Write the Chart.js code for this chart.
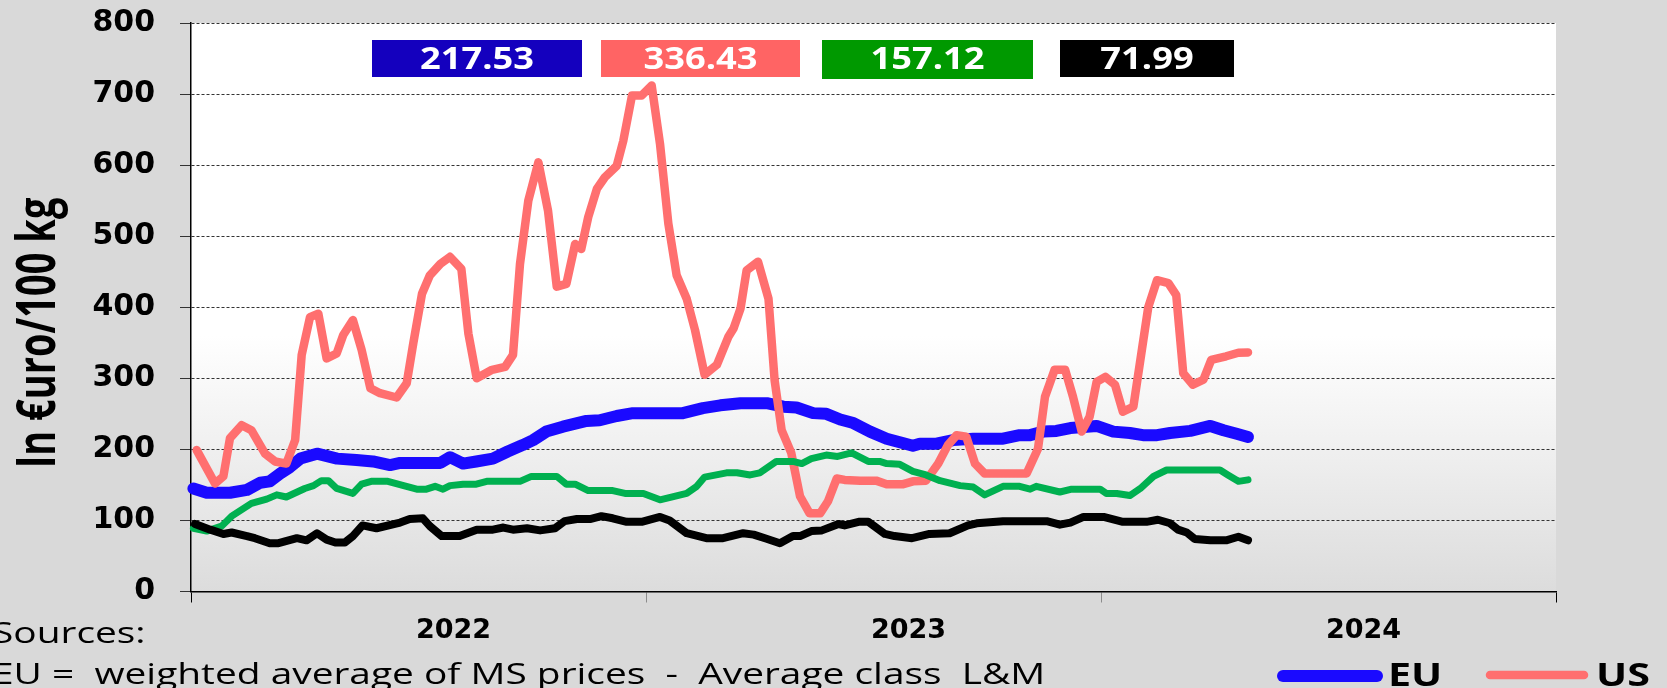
<!DOCTYPE html>
<html>
<head>
<meta charset="utf-8">
<script src="https://cdn.jsdelivr.net/npm/chart.js@4.4.1/dist/chart.umd.min.js"></script>
<style>
  body { margin: 0; background: #d9d9d9; }
  canvas { display: block; }
</style>
</head>
<body>
<canvas id="grafico" width="1667" height="688"></canvas>
<script>
// weeks counted from the start of 2022 (52 weeks per year on the axis)
const euWeeks = [0.27, 1.8, 4.46, 6.4, 7.9, 9.0, 10.2, 11.3, 12.5, 14.4, 16.7, 18.9, 20.8, 22.75, 23.9, 28.5, 29.6, 31.1, 32.6, 34.5, 36.2, 37.9, 39.1, 40.6, 42.5, 45.2, 46.7, 48.65, 50.5, 56.2, 58.5, 60.5, 62.8, 65.8, 67.7, 69.2, 71.1, 72.6, 74.2, 75.7, 77.6, 79.5, 81.0, 82.5, 83.3, 85.2, 87.1, 89.4, 91.3, 92.8, 94.7, 95.9, 97.4, 98.9, 100.5, 103.5, 105.4, 107.3, 108.8, 110.4, 111.9, 114.2, 116.5, 118.0, 119.5, 120.8];
const euPrices = [145, 139, 139, 143, 153, 155, 166, 175, 187, 194, 187, 185, 183, 178, 181, 181, 189, 180, 183, 187, 197, 206, 213, 225, 232, 240, 241, 247, 251, 251, 258, 262, 265, 265, 260, 259, 251, 250, 242, 237, 225, 215, 210, 205, 208, 208, 213, 215, 215, 215, 220, 220, 225, 226, 230, 233, 225, 223, 220, 220, 223, 226, 233, 227, 222, 217.53];

const usWeeks = [0.65, 2.74, 3.7, 4.46, 5.8, 6.9, 8.46, 9.6, 10.9, 11.9, 12.65, 13.6, 14.55, 15.5, 16.65, 17.4, 18.5, 19.5, 20.5, 21.6, 23.5, 24.65, 25.4, 26.4, 27.3, 28.5, 29.6, 30.9, 31.7, 32.65, 34.4, 35.9, 36.8, 37.6, 38.55, 39.7, 40.8, 41.8, 42.9, 43.9, 44.6, 45.4, 46.4, 47.3, 48.65, 49.4, 50.4, 51.5, 52.65, 53.6, 54.55, 55.5, 56.65, 57.6, 58.7, 60.1, 61.4, 62.0, 62.8, 63.5, 64.8, 66.0, 66.7, 67.5, 68.6, 69.6, 70.7, 71.9, 72.8, 73.8, 74.7, 76.5, 78.3, 79.5, 81.4, 82.5, 84.0, 85.4, 86.5, 87.5, 88.6, 89.6, 90.7, 95.5, 96.8, 97.6, 98.7, 99.9, 100.8, 101.8, 102.7, 103.5, 104.5, 105.6, 106.5, 107.7, 109.4, 110.4, 111.7, 112.6, 113.4, 114.5, 115.7, 116.6, 118.3, 119.7, 120.8];
const usPrices = [199, 152, 162, 216, 234, 227, 194, 183, 180, 213, 333, 386, 391, 328, 335, 361, 382, 340, 286, 279, 273, 293, 349, 419, 445, 461, 471, 454, 363, 300, 312, 316, 333, 461, 550, 604, 536, 429, 433, 489, 482, 527, 567, 583, 599, 634, 698, 698, 712, 630, 518, 445, 412, 368, 305, 319, 358, 370, 398, 452, 464, 412, 297, 227, 195, 134, 110, 110, 127, 159, 157, 156, 156, 151, 151, 155, 156, 180, 206, 220, 218, 180, 166, 166, 201, 274, 312, 312, 274, 225, 246, 295, 302, 291, 253, 260, 400, 438, 434, 417, 307, 291, 298, 326, 331, 336, 336.43];

const greenWeeks = [0.27, 1.8, 3.5, 4.65, 6.9, 8.65, 9.8, 10.9, 13.0, 14.0, 14.9, 15.7, 16.65, 18.5, 19.5, 20.6, 22.5, 24.3, 25.8, 26.9, 27.9, 28.8, 29.6, 31.1, 32.6, 33.8, 37.6, 38.9, 41.8, 42.9, 43.9, 45.4, 48.2, 49.6, 51.7, 53.6, 56.65, 57.8, 58.7, 61.2, 62.4, 63.9, 65.0, 66.9, 68.8, 69.8, 70.9, 72.6, 73.9, 75.5, 77.4, 78.7, 79.5, 81.0, 82.5, 84.0, 85.6, 87.9, 89.4, 90.7, 92.8, 94.7, 95.9, 96.6, 99.3, 100.65, 103.9, 104.6, 105.8, 107.3, 108.5, 110.0, 111.5, 117.6, 118.5, 119.7, 120.8];
const greenPrices = [89, 85, 92, 106, 124, 130, 136, 133, 145, 149, 156, 156, 145, 138, 151, 155, 155, 149, 144, 144, 148, 144, 149, 151, 151, 155, 155, 162, 162, 151, 151, 142, 142, 138, 138, 129, 138, 148, 161, 167, 167, 164, 167, 183, 183, 180, 187, 192, 190, 195, 183, 183, 180, 179, 169, 164, 156, 149, 147, 136, 148, 148, 144, 148, 140, 144, 144, 138, 138, 135, 145, 162, 171, 171, 164, 155, 157.12];

const blackWeeks = [0.46, 2.2, 3.7, 4.65, 6.4, 7.3, 9.0, 10.0, 12.1, 13.2, 14.4, 15.5, 16.5, 17.6, 18.5, 19.6, 21.2, 23.9, 25.0, 26.5, 27.3, 28.65, 30.7, 32.65, 34.5, 35.7, 36.8, 38.4, 39.9, 41.6, 42.7, 44.1, 45.6, 46.9, 48.2, 49.8, 51.5, 53.6, 54.7, 56.65, 58.9, 60.8, 63.1, 64.3, 65.6, 67.3, 68.8, 69.6, 70.9, 72.1, 74.0, 74.7, 76.3, 77.4, 79.3, 80.4, 82.4, 84.4, 86.7, 88.8, 89.8, 92.8, 97.8, 99.3, 100.5, 102.0, 104.3, 106.5, 109.2, 110.5, 111.9, 112.8, 113.8, 114.7, 116.5, 118.3, 119.7, 120.8];
const blackPrices = [95, 87, 81, 83, 78, 75, 68, 68, 75, 72, 82, 73, 69, 69, 78, 93, 89, 97, 102, 103, 92, 78, 78, 87, 87, 90, 87, 89, 86, 89, 99, 102, 102, 106, 103, 98, 98, 105, 100, 82, 75, 75, 82, 80, 75, 68, 78, 78, 85, 86, 95, 93, 98, 98, 81, 78, 75, 81, 82, 93, 96, 99, 99, 94, 97, 105, 105, 98, 98, 101, 96, 87, 83, 74, 72, 72, 77, 71.99];

// x axis: year boundaries and the week where each year label sits
const yearBounds = [0, 52, 104, 156];
const yearLabelWeeks = [30, 82, 134];
const yearLabels = ["2022", "2023", "2024"];
const yTicks = [0, 100, 200, 300, 400, 500, 600, 700, 800];

const pontos = (semanas, precos) => semanas.map((s, i) => ({ x: s, y: precos[i] }));

function textoEsticado(ctx, texto, x, y, sx, align) {
  ctx.save();
  ctx.translate(x, y);
  ctx.scale(sx, 1);
  ctx.textAlign = align;
  ctx.fillText(texto, 0, 0);
  ctx.restore();
}

const fundo = {
  id: "fundo",
  beforeDraw(chart) {
    const { ctx, chartArea: a } = chart;
    ctx.save();
    ctx.fillStyle = "#d9d9d9";
    ctx.fillRect(0, 0, chart.width, chart.height);
    const g = ctx.createLinearGradient(0, a.top, 0, a.bottom);
    g.addColorStop(0, "#ffffff");
    g.addColorStop(0.55, "#ffffff");
    g.addColorStop(1, "#dcdcdc");
    ctx.fillStyle = g;
    ctx.fillRect(a.left, a.top, a.right - a.left, a.bottom - a.top);
    ctx.restore();
  }
};

// value boxes, axis title, notes and legend
const extras = {
  id: "extras",
  afterDraw(chart) {
    const ctx = chart.ctx;
    const ds = chart.data.datasets;
    ctx.save();

    const caixas = [
      { x: 372, w: 210, h: 37, cor: "#1400be", serie: 0 },
      { x: 601, w: 199, h: 37, cor: "#ff6464", serie: 1 },
      { x: 822, w: 211, h: 39, cor: "#009900", serie: 2 },
      { x: 1060, w: 174, h: 37, cor: "#000000", serie: 3 }
    ];
    ctx.font = "bold 31px 'Open Sans'";
    caixas.forEach(c => {
      const dados = ds[c.serie].data;
      ctx.fillStyle = c.cor;
      ctx.fillRect(c.x, 40, c.w, c.h);
      ctx.fillStyle = "#ffffff";
      textoEsticado(ctx, dados[dados.length - 1].y.toFixed(2), c.x + c.w / 2, 68.5, 1.17, "center");
    });

    // y axis title
    ctx.fillStyle = "#000";
    ctx.font = "bold 38px 'Open Sans'";
    ctx.save();
    ctx.translate(55, 333);
    ctx.rotate(-Math.PI / 2);
    ctx.scale(1, 1.4);
    ctx.textAlign = "center";
    ctx.fillText("In €uro/100 kg", 0, 0);
    ctx.restore();

    ctx.font = "29px 'Open Sans'";
    textoEsticado(ctx, "Sources:", -8, 643, 1.34, "left");
    textoEsticado(ctx, "EU =  weighted average of MS prices  -  Average class  L&M", -8, 684, 1.34, "left");

    // legend
    const legenda = [
      { x1: 1277, x2: 1383, y: 676, texto: "EU", tx: 1388, serie: 0 },
      { x1: 1484, x2: 1590, y: 675, texto: "US", tx: 1596, serie: 1 }
    ];
    ctx.lineCap = "round";
    ctx.font = "bold 33px 'Open Sans'";
    legenda.forEach(l => {
      ctx.strokeStyle = ds[l.serie].borderColor;
      ctx.lineWidth = ds[l.serie].borderWidth;
      ctx.beginPath();
      ctx.moveTo(l.x1 + 6, l.y);
      ctx.lineTo(l.x2 - 6, l.y);
      ctx.stroke();
      ctx.fillStyle = "#000";
      textoEsticado(ctx, l.texto, l.tx, 686, 1.25, "left");
    });
    ctx.restore();
  }
};

const linha = (label, semanas, precos, cor, largura, ordem) => ({
  label,
  data: pontos(semanas, precos),
  borderColor: cor,
  borderWidth: largura,
  pointRadius: 0,
  tension: 0,
  borderJoinStyle: "round",
  borderCapStyle: "round",
  order: ordem,
  clip: false
});

new Chart(document.getElementById("grafico"), {
  type: "line",
  data: {
    datasets: [
      linha("EU", euWeeks, euPrices, "#1a0aff", 12, 4),
      linha("US", usWeeks, usPrices, "#ff6f6f", 8.5, 3),
      linha("Green", greenWeeks, greenPrices, "#00b050", 7, 2),
      linha("Black", blackWeeks, blackPrices, "#000000", 8, 1)
    ]
  },
  options: {
    responsive: false,
    animation: false,
    layout: { padding: { top: 23, right: 111, left: 0, bottom: 0 } },
    plugins: { legend: { display: false }, tooltip: { enabled: false } },
    scales: {
      x: {
        type: "linear",
        min: 0,
        max: 156,
        afterBuildTicks: scale => {
          scale.ticks = [...yearBounds, ...yearLabelWeeks].sort((a, b) => a - b).map(v => ({ value: v }));
        },
        afterFit: scale => { scale.height = 96.5; },
        ticks: {
          autoSkip: false,
          maxRotation: 0,
          padding: 12,
          color: "#000",
          font: { family: "'DejaVu Sans'", weight: "bold", size: 27 },
          callback: v => {
            const i = yearLabelWeeks.indexOf(v);
            return i >= 0 ? yearLabels[i] : "";
          }
        },
        grid: {
          drawOnChartArea: false,
          tickLength: 11,
          tickWidth: 1,
          tickColor: c => {
            const v = c.tick ? c.tick.value : -1;
            if (v === 0 || v === 156) return "#000";
            if (yearBounds.includes(v)) return "#8c8c8c";
            return "rgba(0,0,0,0)";
          }
        },
        border: { display: true, color: "#000", width: 1.5 }
      },
      y: {
        min: 0,
        max: 800,
        afterBuildTicks: scale => { scale.ticks = yTicks.map(v => ({ value: v })); },
        afterFit: scale => {
          // the label padding would otherwise push the plot area down
          scale.width = 191;
          scale.paddingTop = 0;
          scale.paddingBottom = 0;
        },
        ticks: {
          padding: 25,
          color: "#000",
          font: { family: "'DejaVu Sans'", weight: "bold", size: 30 }
        },
        grid: {
          color: "#333",
          lineWidth: 1,
          tickLength: 11,
          tickColor: "#333",
          tickBorderDash: []
        },
        border: { display: true, color: "#000", width: 1.5, dash: [3, 2] }
      }
    }
  },
  plugins: [fundo, extras]
});
</script>
</body>
</html>
